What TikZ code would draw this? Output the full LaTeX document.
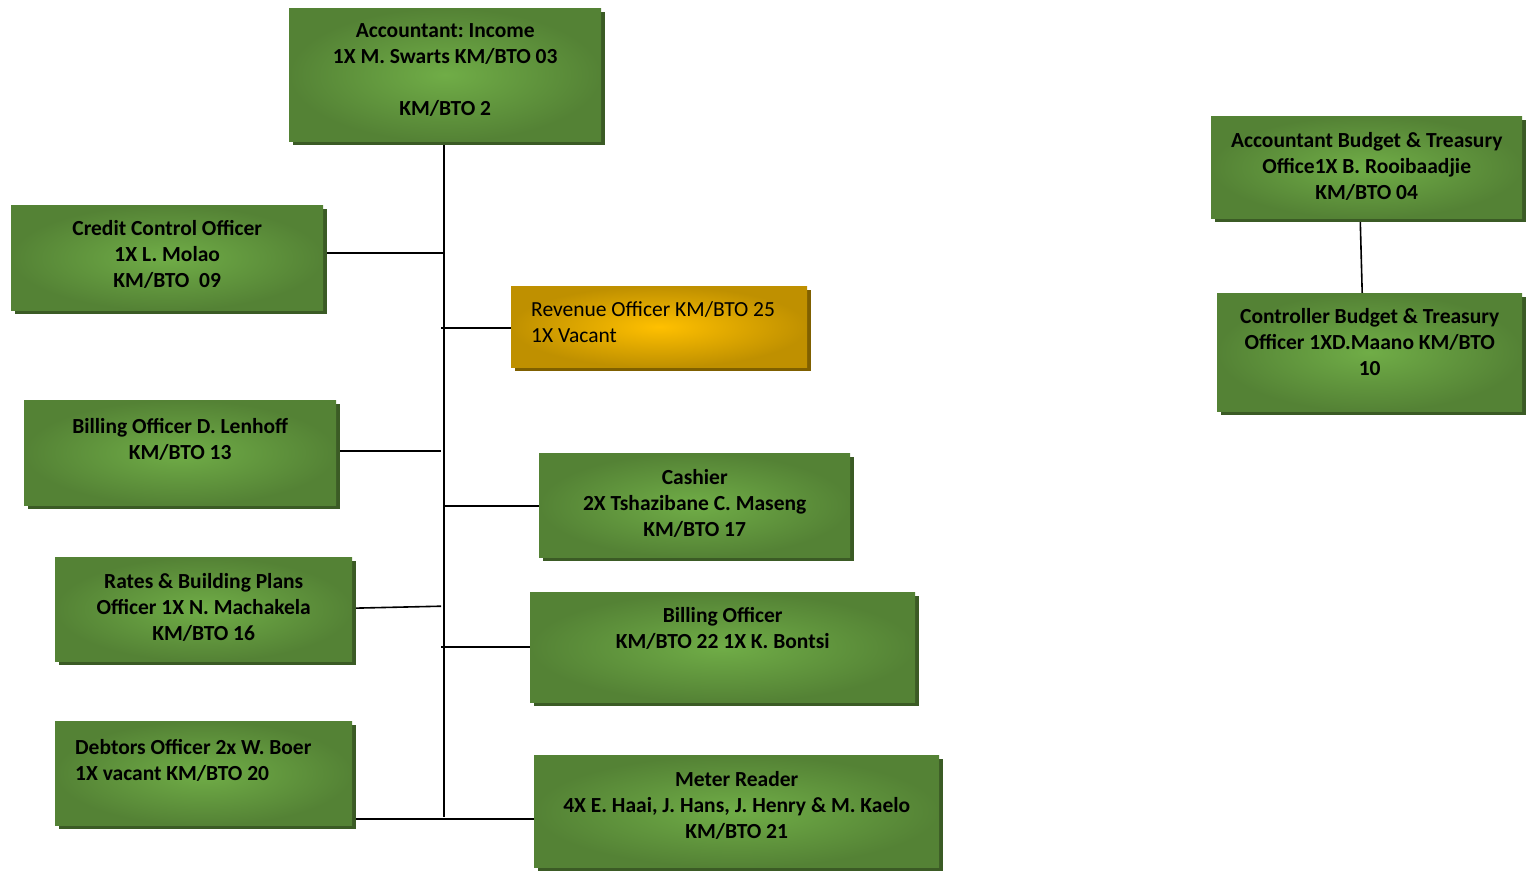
\documentclass[tikz,border=0pt]{standalone}
\usepackage{fontspec}
\setmainfont{Carlito}
\usetikzlibrary{shadows,backgrounds}
\frenchspacing

\definecolor{grEdge}{HTML}{548235}
\definecolor{grMid}{HTML}{70AD47}
\definecolor{grShadow}{HTML}{3B5B25}
\definecolor{goEdge}{HTML}{BF9000}
\definecolor{goMid}{HTML}{FFC000}
\definecolor{goShadow}{HTML}{7F6000}

% text block of a post box: width, height, top-aligned lines
\newcommand\orgtext[5][\centering]{%
  \parbox[c][#3][t]{#2}{#1\rule{0pt}{#4}#5}}

\tikzset{
  post/.style={inner sep=0pt, anchor=north west,
    shade, inner color=grMid, outer color=grEdge,
    general shadow={fill=grShadow, shadow xshift=4pt, shadow yshift=-4pt},
    font=\fontsize{21.5}{26.3}\selectfont\bfseries},
  vacantpost/.style={post, inner color=goMid, outer color=goEdge,
    general shadow={fill=goShadow, shadow xshift=4pt, shadow yshift=-4pt},
    font=\fontsize{21.5}{26.3}\selectfont},
  link/.style={draw=black, line width=1.6pt}
}

\begin{document}
\begin{tikzpicture}[x=1pt, y=-1pt]
\useasboundingbox (0,0) rectangle (1526,872);

% income section
\node[post] (acc) at (289,8)
  {\orgtext{312pt}{133pt}{29pt}{Accountant: Income\\1X M. Swarts KM/BTO 03\\[26pt]KM/BTO 2}};
\node[post] (cco) at (11,205)
  {\orgtext{312pt}{105pt}{30pt}{Credit Control Officer\\1X L. Molao\\KM/BTO\ \ 09}};
\node[vacantpost] (rev) at (511,286)
  {\orgtext[\raggedright\leftskip=20pt\relax]{296pt}{81pt}{30pt}{Revenue Officer KM/BTO 25\\1X Vacant}};
\node[post] (bil1) at (24,400)
  {\orgtext{312pt}{105pt}{33pt}{Billing Officer D. Lenhoff\\KM/BTO 13}};
\node[post] (cash) at (539,453)
  {\orgtext{311pt}{104pt}{31pt}{Cashier\\2X Tshazibane C. Maseng\\KM/BTO 17}};
\node[post] (rates) at (55,557)
  {\orgtext{297pt}{104pt}{31pt}{Rates \& Building Plans\\Officer 1X N. Machakela\\KM/BTO 16}};
\node[post] (bil2) at (530,592)
  {\orgtext{385pt}{110pt}{30pt}{Billing Officer\\KM/BTO 22 1X K. Bontsi}};
\node[post] (debt) at (55,721)
  {\orgtext[\raggedright\leftskip=20pt\relax]{297pt}{104pt}{33pt}{Debtors Officer 2x W. Boer\\1X vacant KM/BTO 20}};
\node[post] (meter) at (534,755)
  {\orgtext{405pt}{112pt}{31pt}{Meter Reader\\4X E. Haai, J. Hans, J. Henry \& M. Kaelo\\KM/BTO 21}};

% budget & treasury section
\node[post] (abt) at (1211,116)
  {\orgtext{311pt}{102pt}{31pt}{Accountant Budget \& Treasury\\Office1X B. Rooibaadjie\\KM/BTO 04}};
\node[post] (cbt) at (1217,293)
  {\orgtext{305pt}{118pt}{30pt}{Controller Budget \& Treasury\\Officer 1XD.Maano KM/BTO\\10}};

% connectors
\coordinate (trunkTop) at ([xshift=-1pt]acc.south);
\coordinate (trunkEnd) at (trunkTop |- meter.west);
\begin{scope}[on background layer]
\draw[link] (trunkTop) -- ([yshift=-6pt]trunkEnd);
\draw[link] ([yshift=4.5pt]cco.east) -- ([yshift=4.5pt]cco.east -| trunkTop);
\draw[link] ([yshift=-1.5pt]rev.west) -- ([yshift=-1.5pt,xshift=-3pt]rev.west -| trunkTop);
\draw[link] ([yshift=1.5pt]bil1.east) -- ([yshift=1.5pt,xshift=-3pt]bil1.east -| trunkTop);
\draw[link] ([yshift=-1pt]cash.west) -- ([yshift=-1pt]cash.west -| trunkTop);
\draw[link] ([yshift=1pt]rates.east) -- ([yshift=3pt,xshift=-3pt]rates.east -| trunkTop);
\draw[link] (bil2.west) -- ([xshift=-3pt]bil2.west -| trunkTop);
\draw[link] ([yshift=-46pt]debt.east) -- ([yshift=-46pt]debt.east -| meter.west);
\draw[link] ([xshift=-6.5pt]abt.south) -- ([xshift=-7.5pt]cbt.north);
\end{scope}
\end{tikzpicture}
\end{document}
